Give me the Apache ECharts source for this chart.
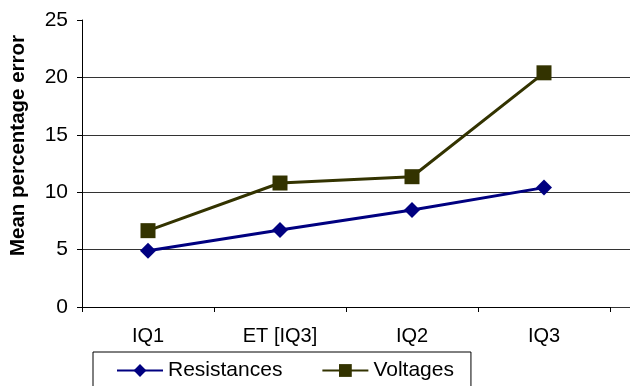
<!DOCTYPE html>
<html><head><meta charset="utf-8">
<script src="https://cdn.jsdelivr.net/npm/echarts@6/dist/echarts.min.js"></script>
<style>html,body{margin:0;padding:0;background:#fff}#c{width:630px;height:386px}</style>
</head><body><div id="c"></div>
<script>
const categories = ['IQ1', 'ET [IQ3]', 'IQ2', 'IQ3'];
const resistances = [4.9, 6.7, 8.45, 10.4];
const voltages = [6.65, 10.8, 11.35, 20.4];
const yTicks = [0, 5, 10, 15, 20, 25];

const FONT = '"Liberation Sans", Arial, sans-serif';
const chart = echarts.init(document.getElementById('c'));
chart.setOption({
  animation: false,
  backgroundColor: '#fff',
  textStyle: { fontFamily: FONT },
  grid: [
    { left: 82, right: 20, top: 20, bottom: 79 },
    { left: 82, right: 0, top: 77.6, bottom: 79 }
  ],
  xAxis: [
    {
      type: 'category', data: categories, gridIndex: 0, boundaryGap: true,
      axisLine: { lineStyle: { color: '#000', width: 1 } },
      axisTick: { show: true, length: 5, lineStyle: { color: '#000' } },
      axisLabel: { color: '#000', fontSize: 20, margin: 19, fontFamily: FONT },
      z: 5
    },
    { type: 'value', gridIndex: 1, show: false, min: 0, max: 1 }
  ],
  yAxis: [
    {
      type: 'value', gridIndex: 0, min: yTicks[0], max: yTicks[yTicks.length - 1], interval: 5,
      name: 'Mean percentage error', nameLocation: 'middle', nameGap: 53,
      nameTextStyle: { fontSize: 20.5, fontWeight: 'bold', color: '#000', fontFamily: FONT, padding: [0, 0, 0, 36] },
      axisLine: { show: true, lineStyle: { color: '#000', width: 1 } },
      axisTick: { show: true, length: 5, lineStyle: { color: '#000' } },
      axisLabel: { color: '#000', fontSize: 21, margin: 14, fontFamily: FONT },
      splitLine: { show: false },
      z: 5
    },
    {
      type: 'value', gridIndex: 1, min: 0, max: 20, interval: 5,
      axisLine: { show: false }, axisTick: { show: false }, axisLabel: { show: false },
      splitLine: { show: true, lineStyle: { color: '#333', width: 1 } },
      z: 1
    }
  ],
  legend: {
    left: 93, top: 352, orient: 'horizontal',
    padding: [8, 17, 14, 23],
    borderColor: '#000', borderWidth: 1,
    itemWidth: 46, itemHeight: 16, itemGap: 39,
    textStyle: { fontSize: 21, color: '#000', fontFamily: FONT },
    data: ['Resistances', 'Voltages']
  },
  series: [
    {
      name: 'Resistances', type: 'line', data: resistances, xAxisIndex: 0, yAxisIndex: 0,
      symbol: 'diamond', symbolSize: 16,
      lineStyle: { color: '#000080', width: 3 },
      itemStyle: { color: '#000080' }, z: 3
    },
    {
      name: 'Voltages', type: 'line', data: voltages, xAxisIndex: 0, yAxisIndex: 0,
      symbol: 'rect', symbolSize: 15,
      lineStyle: { color: '#333300', width: 3 },
      itemStyle: { color: '#333300' }, z: 3
    }
  ]
});
</script></body></html>
